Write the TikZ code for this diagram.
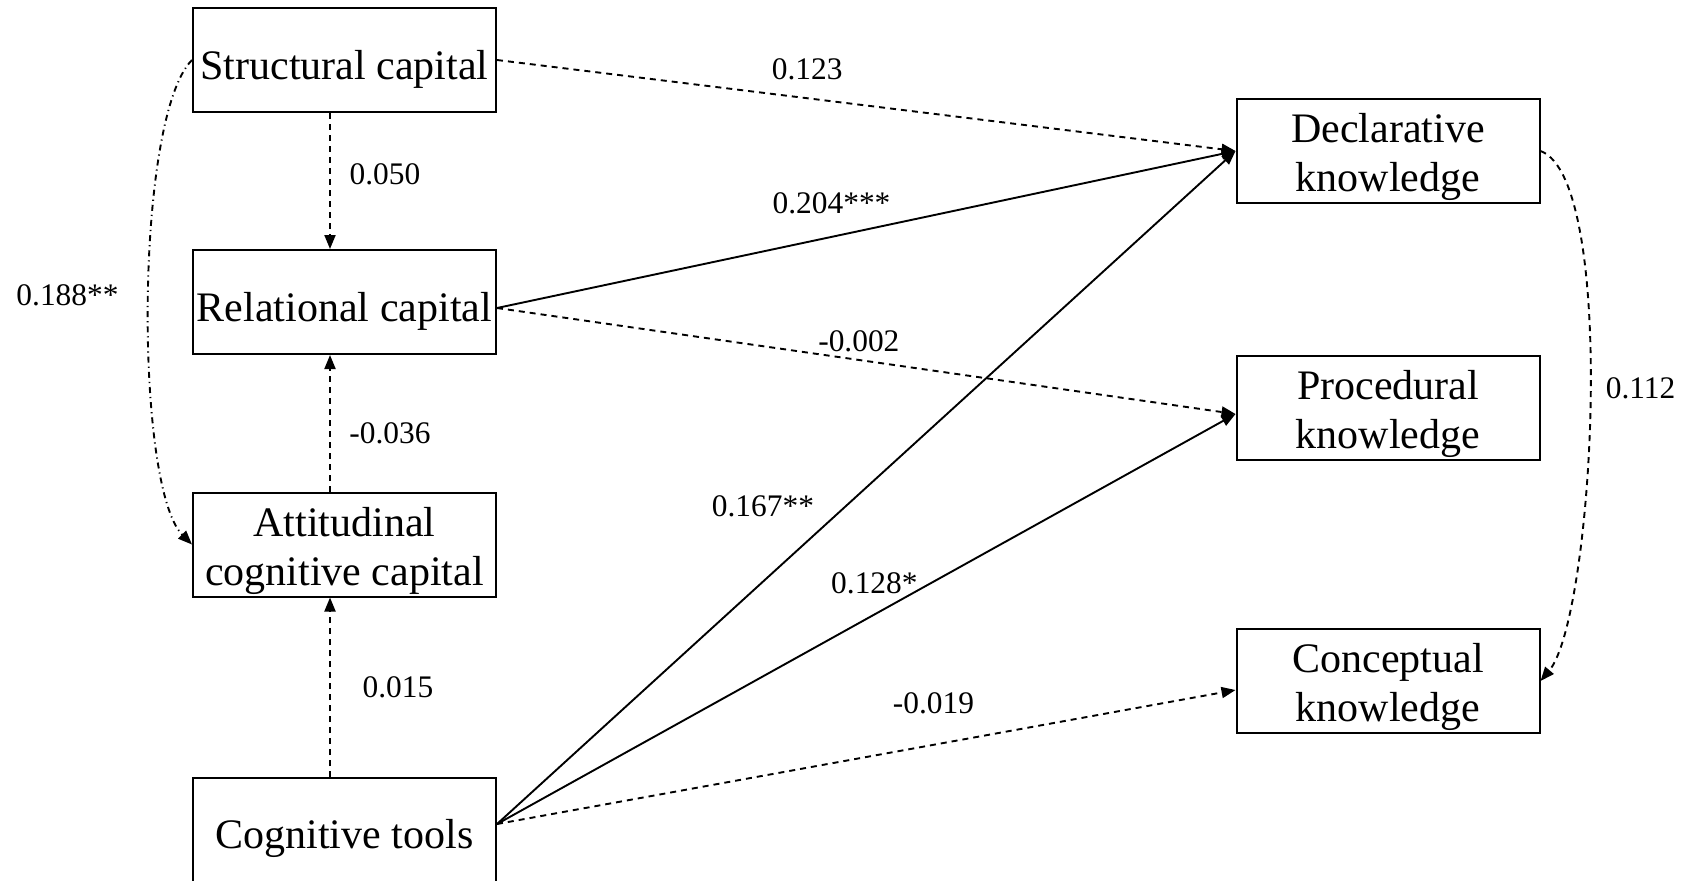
\documentclass[tikz,border=0pt]{standalone}
\usepackage{fontspec}
\setmainfont{Liberation Serif}
\usetikzlibrary{arrows.meta,positioning}
\newcommand{\lift}[1]{\rule{0pt}{#1}}
\tikzset{
  varbox/.style={
    rectangle, draw=black, line width=1pt,
    minimum width=151.5pt, minimum height=52pt,
    inner sep=1pt, align=center,
    font=\fontsize{21}{24.5}\selectfont
  },
  patharrow/.style={
    -{Triangle[length=7pt,width=5.5pt]}, line width=0.95pt
  },
  nsarrow/.style={
    patharrow, dash pattern=on 3pt off 2.5pt
  },
  covarrow/.style={
    patharrow, dash pattern=on 3pt off 2pt on 0.6pt off 2pt
  },
  coeflabel/.style={
    font=\fontsize{15.7}{18}\selectfont, inner sep=1pt
  },
}

\begin{document}
\begin{tikzpicture}[x=0.5pt, y=-0.5pt]
  \useasboundingbox (0,0) rectangle (1684,880);
  \clip (0,0) rectangle (1684,880);

  % Social capital and tools (left column)
  \foreach \n/\txt/\y in {struct/{\lift{23.5pt}Structural capital}/60,
                          rel/{\lift{23.5pt}Relational capital}/302,
                          att/{\lift{20.7pt}Attitudinal\\cognitive capital}/544.5,
                          tools/{\lift{23.5pt}Cognitive tools}/830} {
    \node[varbox] (\n) at (344.5, \y) {\txt};
  }

  % Knowledge types (right column)
  \foreach \n/\txt/\y in {decl/{\lift{20.7pt}Declarative\\knowledge}/151,
                          proc/{\lift{20.7pt}Procedural\\knowledge}/408,
                          conc/{\lift{20.7pt}Conceptual\\knowledge}/681} {
    \node[varbox] (\n) at (1388, \y) {\txt};
  }

  \coordinate (relout) at ([yshift=-3pt]rel.east);
  \coordinate (toolsout) at ([yshift=3pt]tools.east);
  \coordinate (procin) at ([yshift=-3pt]proc.west);
  \coordinate (concin) at ([yshift=-4.5pt]conc.west);

  % Vertical paths
  \draw[nsarrow] ([xshift=-7.25pt]struct.south) -- ([xshift=-7.25pt]rel.north)
    node[coeflabel, pos=0.45, xshift=27.5pt] {0.050};
  \draw[nsarrow] ([xshift=-7.25pt]att.north) -- ([xshift=-7.25pt]rel.south)
    node[coeflabel, pos=0.43, xshift=30pt] {-0.036};
  \draw[nsarrow] ([xshift=-7.25pt]tools.north) -- ([xshift=-7.25pt]att.south)
    node[coeflabel, pos=0.5, xshift=34pt] {0.015};

  % Paths to knowledge
  \draw[nsarrow] (struct.east) -- (decl.west)
    node[coeflabel, pos=0.42, yshift=14.5pt] {0.123};
  \draw[patharrow] (relout) -- (decl.west)
    node[coeflabel, pos=0.453, yshift=17pt] {0.204***};
  \draw[nsarrow] (relout) -- (procin)
    node[coeflabel, pos=0.49, yshift=9.5pt] {-0.002};
  \draw[patharrow] (toolsout) -- (decl.west)
    node[coeflabel, pos=0.4725, xshift=-41.5pt] {0.167**};
  \draw[patharrow] (toolsout) -- (procin)
    node[coeflabel, pos=0.511, yshift=15.75pt] {0.128*};
  \draw[nsarrow] (toolsout) -- (concin)
    node[coeflabel, pos=0.591, yshift=21pt] {-0.019};

  % Curved paths
  \draw[covarrow] (struct.west) to[out=225, in=135, looseness=0.43]
    node[coeflabel, pos=0.5, xshift=-40.7pt, yshift=3.5pt] {0.188**} (att.west);
  \draw[nsarrow] (decl.east) to[out=-20, in=50, looseness=0.4]
    node[coeflabel, pos=0.5, xshift=25.5pt, yshift=7.5pt] {0.112} (conc.east);
\end{tikzpicture}
\end{document}
